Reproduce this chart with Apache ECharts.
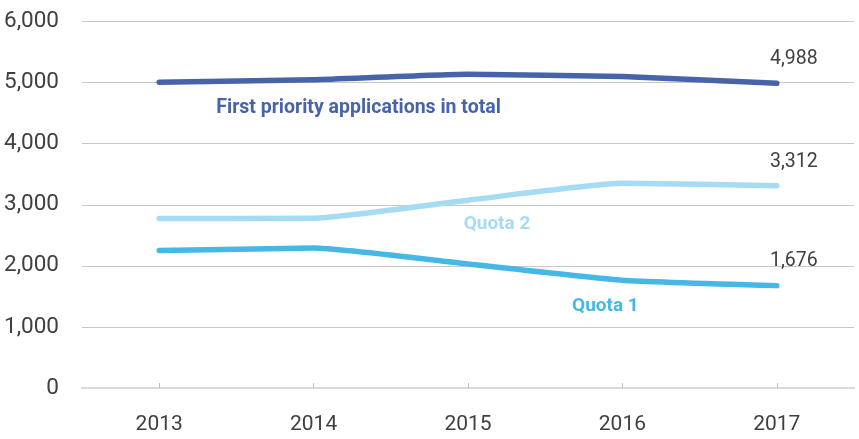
<!DOCTYPE html>
<html><head><meta charset="utf-8">
<script src="https://cdn.jsdelivr.net/npm/echarts@6/dist/echarts.min.js"></script>
<style>html,body{margin:0;padding:0;background:#fff}#c{width:859px;height:439px}</style>
</head><body><div id="c"></div>
<script>
var years = ['2013','2014','2015','2016','2017'];
var totalApps = [5005, 5045, 5135, 5100, 4988];
var quota2 = [2775, 2780, 3075, 3350, 3312];
var quota1 = [2250, 2290, 2030, 1765, 1676];
var yTicks = [0, 1000, 2000, 3000, 4000, 5000, 6000];

var FONT = 'Roboto, "DejaVu Sans Condensed", sans-serif';
function fmt(v){ return v.toLocaleString('en-US'); }

function series(name, vals, color, nameIdx, nameOffset, nameSize){
  var data = vals.map(function(v, i){
    var d = {value: v};
    if (i === nameIdx) {
      d.label = {show: true, position: 'inside', offset: nameOffset,
        formatter: name, color: color, fontFamily: FONT, fontWeight: 'bold', fontSize: nameSize};
    } else if (i === vals.length - 1) {
      d.label = {show: true, position: 'inside', offset: [17, -24],
        formatter: fmt(v), color: '#404040', fontFamily: FONT, fontSize: 19.5};
    } else {
      d.label = {show: false};
    }
    return d;
  });
  return {
    name: name, type: 'line', data: data, smooth: 0.15,
    symbol: 'circle', symbolSize: 0, showSymbol: true,
    itemStyle: {color: color},
    lineStyle: {color: color, width: 5.5, cap: 'round', join: 'round'},
    label: {show: true},
    emphasis: {disabled: true}, silent: true
  };
}

var chart = echarts.init(document.getElementById('c'), null, {renderer: 'canvas'});
chart.setOption({
  animation: false,
  grid: {left: 82, right: 5, top: 21.5, bottom: 51},
  xAxis: {
    type: 'category', data: years, boundaryGap: true,
    axisLine: {show: true, lineStyle: {color: '#d9d9d9', width: 2}},
    axisTick: {show: true, alignWithLabel: true, inside: true, length: 5, lineStyle: {color: '#c0c0c0'}},
    axisLabel: {color: '#404040', fontFamily: FONT, fontSize: 21, margin: 26}
  },
  yAxis: {
    type: 'value', min: yTicks[0], max: yTicks[yTicks.length-1], interval: 1000,
    axisLine: {show: false}, axisTick: {show: false},
    splitLine: {lineStyle: {color: '#c8c8c8', width: 1}},
    axisLabel: {color: '#404040', fontFamily: FONT, fontSize: 22.5, margin: 23,
      formatter: function(v){ return fmt(v); }}
  },
  series: [
    series('Quota 2', quota2, '#a5dcf3', 2, [29, 24], 19),
    series('Quota 1', quota1, '#47b8e5', 3, [-17, 26], 19),
    series('First priority applications in total', totalApps, '#4864a9', 1, [45, 28], 19.5)
  ]
});
</script></body></html>
